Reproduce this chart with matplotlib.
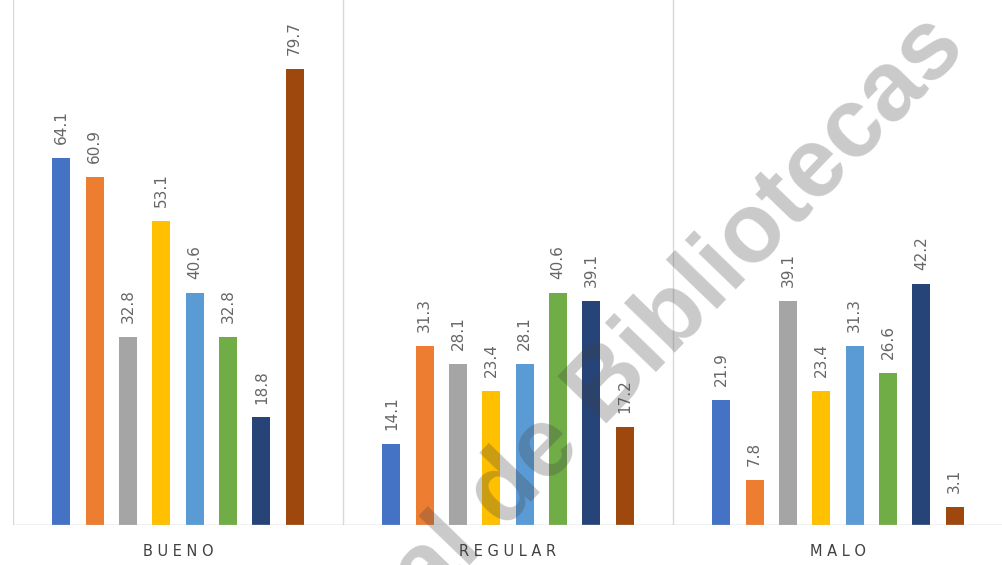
import numpy as np
import matplotlib
matplotlib.use("Agg")
import matplotlib.pyplot as plt

categories = ["BUENO", "REGULAR", "MALO"]
s1 = [64.1, 14.1, 21.9]
s2 = [60.9, 31.3, 7.8]
s3 = [32.8, 28.1, 39.1]
s4 = [53.1, 23.4, 23.4]
s5 = [40.6, 28.1, 31.3]
s6 = [32.8, 40.6, 26.6]
s7 = [18.8, 39.1, 42.2]
s8 = [79.7, 17.2, 3.1]
series = [s1, s2, s3, s4, s5, s6, s7, s8]
colors = ["#4472C4", "#ED7D31", "#A5A5A5", "#FFC000",
          "#5B9BD5", "#70AD47", "#264478", "#9E480E"]

fig = plt.figure(figsize=(10.03, 5.65), dpi=100)
ax = fig.add_axes([0.013, 0.071, 0.987, 0.929])

x = np.arange(len(categories))
step = 0.101
width = 0.054
for i, (vals, c) in enumerate(zip(series, colors)):
    pos = x + (i - 3.5) * step
    bars = ax.bar(pos, vals, width=width, color=c, zorder=3)
    for b, v in zip(bars, vals):
        ax.annotate(f"{v:.1f}", (b.get_x() + b.get_width() / 2, v),
                    xytext=(0, 10), textcoords="offset points",
                    rotation=90, ha="center", va="bottom",
                    fontsize=11, color="#666666")

ax.set_xlim(-0.5, 2.5)
ax.set_ylim(0, 91.8)
for b in [-0.5, 0.5, 1.5, 2.5]:
    ax.axvline(b, color="#D9D9D9", linewidth=1, zorder=1)
ax.axhline(0, color="#BFBFBF", linewidth=1, zorder=4)

for s in ax.spines.values():
    s.set_visible(False)
ax.set_yticks([])
ax.set_xticks(x)
ax.set_xticklabels([" ".join(c) for c in categories], fontsize=10.5, color="#404040")
ax.tick_params(axis="x", length=0, pad=14)

# watermark
fig.text(0.965, 0.912, "al de Bibliotecas", rotation=46, rotation_mode="anchor",
         ha="right", va="baseline", fontsize=71, family="Liberation Sans",
         fontweight="bold", color="#404040", alpha=0.28, zorder=10)

fig.savefig("out.png", dpi=100)
